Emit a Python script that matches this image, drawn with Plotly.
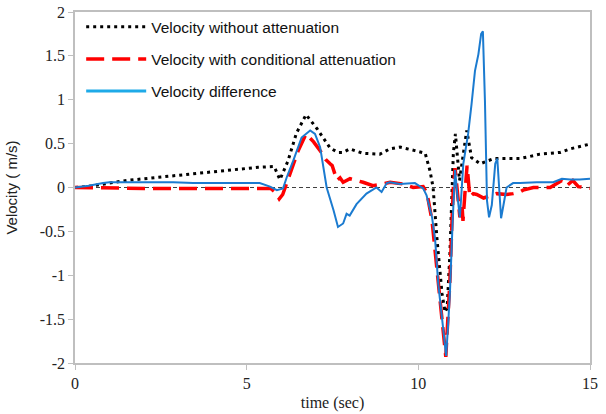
import plotly.graph_objects as go

# Velocity without attenuation (black dotted)
t_without = [0, 0.35, 1.5, 3.45, 5.33, 5.8, 5.97, 6.2, 6.45, 6.73, 7.05, 7.43, 7.66, 7.81, 8.0, 8.39, 8.88, 9.17,
             9.47, 9.9, 10.2, 10.34, 10.43, 10.54, 10.63, 10.69, 10.78, 10.84, 10.92, 10.97, 11.02, 11.08, 11.2,
             11.28, 11.41, 11.55, 11.8, 12.2, 12.67, 12.96, 13.2, 13.54, 14.13, 14.42, 14.95, 15.0]
v_without = [0, 0.01, 0.08, 0.16, 0.23, 0.24, 0.09, 0.3, 0.62, 0.83, 0.67, 0.45, 0.40, 0.40, 0.44, 0.39, 0.38, 0.44,
             0.46, 0.42, 0.39, 0.19, 0.0, -0.57, -0.95, -1.21, -1.42, -1.37, -0.75, -0.19, 0.39, 0.61, 0.08,
             0.3, 0.65, 0.34, 0.27, 0.33, 0.33, 0.33, 0.35, 0.38, 0.40, 0.44, 0.49, 0.49]

# Velocity with conditional attenuation (red dashed)
t_cond = [0, 2.0, 4.0, 5.7, 5.85, 5.95, 6.05, 6.12, 6.3, 6.5, 6.73, 6.95, 7.14, 7.3, 7.43, 7.49, 7.63, 7.72, 7.81, 8.01,
          8.39, 8.68, 8.97, 9.18, 9.56, 9.85, 10.14, 10.25, 10.4, 10.49, 10.58, 10.66, 10.73, 10.8, 10.87, 10.92,
          10.97, 11.02, 11.07, 11.16, 11.21, 11.27, 11.3, 11.36, 11.42, 11.5, 11.6, 11.7, 11.9, 12.28, 12.57, 12.76,
          12.96, 13.05, 13.25, 13.35, 13.84, 14.03, 14.18, 14.32, 14.5, 14.66, 14.8, 15.0]
v_cond = [0, -0.01, -0.01, -0.01, -0.06, -0.13, -0.08, 0.0, 0.2, 0.42, 0.61, 0.52, 0.42, 0.32, 0.27, 0.25, 0.08, 0.11,
          0.06, 0.10, 0.06, 0.02, 0.04, 0.06, 0.04, 0.0, 0.01, -0.06, -0.38, -0.75, -1.14, -1.40, -1.66, -1.93, -1.51,
          -1.06, -0.49, 0.0, 0.22, -0.19, -0.34, -0.18, -0.38, -0.05, 0.25, -0.11, -0.07, -0.08, -0.12, -0.07, -0.08,
          -0.07, -0.05, -0.03, -0.01, 0.0, 0.0, 0.04, 0.08, 0.02, 0.08, 0.01, 0.0, -0.01]

# Velocity difference (blue solid)
t_diff = [0, 0.4, 0.82, 1.0, 2.0, 2.86, 3.44, 4.4, 5.38, 5.68, 5.88, 6.06, 6.17, 6.36, 6.6, 6.85, 6.99, 7.14, 7.33,
          7.53, 7.66, 7.81, 7.91, 8.0, 8.2, 8.49, 8.78, 8.93, 9.08, 9.17, 9.46, 9.9, 10.14, 10.24, 10.4, 10.49,
          10.58, 10.66, 10.73, 10.81, 10.87, 10.92, 11.0, 11.04, 11.07, 11.14, 11.21, 11.31, 11.45, 11.55, 11.65,
          11.75, 11.83, 11.88, 11.94, 12.0, 12.06, 12.14, 12.24, 12.3, 12.35, 12.41, 12.48, 12.57, 12.76, 12.96,
          13.45, 13.93, 14.18, 14.42, 14.7, 14.95, 15.0]
v_diff = [0, 0.02, 0.05, 0.06, 0.06, 0.06, 0.05, 0.05, 0.05, 0.01, -0.03, -0.01, 0.12, 0.31, 0.57, 0.65, 0.61, 0.46,
          0.0, -0.26, -0.45, -0.41, -0.30, -0.32, -0.19, -0.07, 0.0, -0.05, 0.05, 0.06, 0.04, 0.05, -0.01, -0.09,
          -0.34, -0.60, -1.10, -1.38, -1.62, -1.92, -1.55, -1.20, -0.38, 0.08, 0.2, -0.1, -0.34, 0.27, 0.61, 0.95,
          1.33, 1.52, 1.75, 1.78, 0.99, -0.15, -0.34, -0.2, 0.27, 0.33, 0.04, -0.35, -0.2, 0.0, 0.05, 0.05,
          0.06, 0.06, 0.10, 0.09, 0.09, 0.10, 0.10]

x_ticks = [0, 5, 10, 15]
y_ticks = [-2, -1.5, -1, -0.5, 0, 0.5, 1, 1.5, 2]
y_ticktext = ["-2", "-1.5", "-1", "-0.5", "0", "0.5", "1", "1.5", "2"]

fig = go.Figure()

fig.add_trace(go.Scatter(x=t_without, y=v_without, mode="lines", name="Velocity without attenuation",
                         line=dict(color="black", width=3, dash="3px,4px"), legendgroup="a"))
fig.add_trace(go.Scatter(x=t_cond, y=v_cond, mode="lines", name="Velocity with conditional attenuation",
                         line=dict(color="#FF0000", width=3.5, dash="18px,8px"), legendgroup="b"))
fig.add_trace(go.Scatter(x=t_diff, y=v_diff, mode="lines", name="Velocity difference",
                         line=dict(color="#1B7BD0", width=2), legendgroup="c", showlegend=False))
fig.add_trace(go.Scatter(x=[None], y=[None], mode="lines", name="Velocity difference",
                         line=dict(color="#1EAAE8", width=3), legendgroup="c"))

fig.add_shape(type="line", xref="paper", yref="y", x0=0, x1=1, y0=0, y1=0,
              line=dict(color="#404040", width=1, dash="4px,3px"), layer="below")

axis_font = dict(family="Liberation Serif, Times New Roman, serif", size=16, color="#222")

fig.update_layout(
    width=606, height=414,
    margin=dict(l=75, r=16, t=12, b=51, autoexpand=False),
    plot_bgcolor="white", paper_bgcolor="white",
    showlegend=True,
    legend=dict(x=0.012, y=1.005, xanchor="left", yanchor="top", bgcolor="rgba(0,0,0,0)",
                font=dict(family="Liberation Sans, Arial, sans-serif", size=15.5, color="#111"),
                tracegroupgap=9, itemwidth=60),
    xaxis=dict(range=[0, 15], tickvals=x_ticks, ticktext=[str(v) for v in x_ticks], automargin=False,
               showgrid=False, zeroline=False, showline=True, linecolor="#BFBFBF", linewidth=1.5, mirror=True,
               ticks="outside", ticklen=5, tickcolor="#BFBFBF", tickfont=axis_font,
               title=dict(text="time (sec)", font=axis_font, standoff=6)),
    yaxis=dict(range=[-2, 2], tickvals=y_ticks, ticktext=y_ticktext, automargin=False,
               showgrid=False, zeroline=False, showline=True, linecolor="#BFBFBF", linewidth=1.5, mirror=True,
               ticks="outside", ticklen=5, tickcolor="#BFBFBF", tickfont=axis_font,
               title=dict(text="Velocity ( m/s)", font=dict(family="Liberation Sans, Arial, sans-serif", size=15, color="#222"),
                          standoff=18)),
)

fig.write_html("out.html")
